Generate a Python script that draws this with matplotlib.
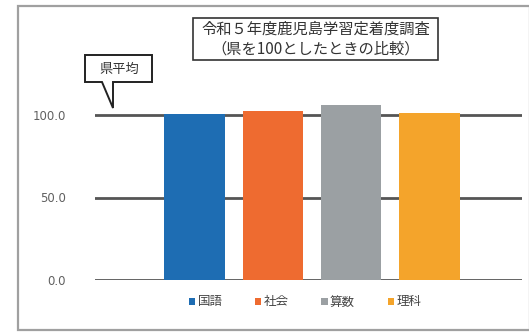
import matplotlib
matplotlib.use("Agg")
import matplotlib.pyplot as plt
from matplotlib.patches import Rectangle, Polygon
import numpy as np

plt.rcParams['font.family'] = ['Noto Sans CJK JP', 'DejaVu Sans']

# data
subjects = ["国語", "社会", "算数", "理科"]
scores = [100.6, 102.6, 106.2, 101.4]
colors = ["#1E6DB3", "#EE6B30", "#9BA0A3", "#F4A42B"]
yticks = [0, 50, 100]
ytick_labels = ["0.0", "50.0", "100.0"]
title_lines = ["令和５年度鹿児島学習定着度調査", "（県を100としたときの比較）"]
callout_text = "県平均"

W, H = 529, 332
fig = plt.figure(figsize=(W / 100, H / 100), dpi=100)
fig.patch.set_facecolor("white")


def fx(px):
    return px / W


def fy(py):
    return 1 - py / H


# outer frame
fig.patches.append(Rectangle((fx(18), fy(330)), fx(530) - fx(18), fy(6) - fy(330),
                             transform=fig.transFigure, fill=False,
                             edgecolor="#a0a0a0", linewidth=1.6))

ax = fig.add_axes([fx(95), fy(280), fx(522) - fx(95), fy(82) - fy(280)])
x = np.arange(len(subjects))
bars = ax.bar(x, scores, width=0.78, color=colors, zorder=3)
ax.set_xlim(-1.28, 4.19)
ax.set_ylim(0, 120)
for v in yticks:
    ax.axhline(v, color="#555555", linewidth=2, zorder=2)
ax.set_yticks(yticks)
ax.set_yticklabels(ytick_labels, color="#606060", fontsize=8.5, family="DejaVu Sans")
ax.tick_params(axis="y", length=0, pad=21)
ax.set_xticks([])
for s in ax.spines.values():
    s.set_visible(False)
ax.patch.set_alpha(0)

# legend
leg = fig.legend(bars, subjects, loc="center", bbox_to_anchor=(fx(305), fy(302)),
                 ncol=4, frameon=False, fontsize=9, handlelength=0.5,
                 handleheight=0.5, handletextpad=0.2, columnspacing=2.6)
for t in leg.get_texts():
    t.set_color("#444444")

# title box
fig.patches.append(Rectangle((fx(193), fy(60)), fx(438) - fx(193), fy(18) - fy(60),
                             transform=fig.transFigure, fill=False,
                             edgecolor="#333333", linewidth=1.2))
fig.text(fx(316), fy(29), title_lines[0], ha="center", va="center", fontsize=11, color="#333333")
fig.text(fx(316), fy(49), title_lines[1], ha="center", va="center", fontsize=11, color="#333333")

# callout
pts = [(85, 55), (152, 55), (152, 82), (113, 82), (113, 108), (102, 82), (85, 82)]
fig.patches.append(Polygon([(fx(a), fy(b)) for a, b in pts], closed=True,
                           transform=fig.transFigure, facecolor="white",
                           edgecolor="#222222", linewidth=1.4))
fig.text(fx(119), fy(69), callout_text, ha="center", va="center", fontsize=9.5, color="#333333")

fig.savefig("out.png", dpi=100)
